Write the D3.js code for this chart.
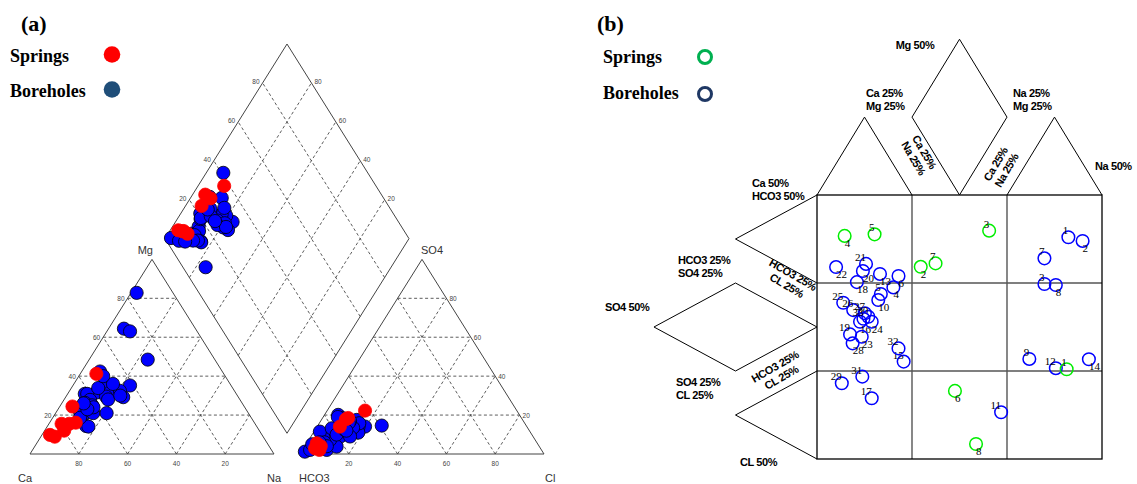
<!DOCTYPE html>
<html lang="en">
<head>
<meta charset="UTF-8">
<title>Piper and Durov diagrams</title>
<script src="https://d3js.org/d3.v7.min.js"></script>
<style>
  body { margin: 0; background: #fff; }
  svg { display: block; }
  .legend { font-family: "Liberation Serif", "Times New Roman", serif; font-weight: bold; }
  .tick-lbl { font-family: "Liberation Sans", Arial, sans-serif; font-size: 6.5px; fill: #444; }
  .axis-lbl { font-family: "Liberation Sans", Arial, sans-serif; font-size: 11px; fill: #333; }
  .durov-lbl { font-family: "Liberation Sans", Arial, sans-serif; font-size: 11px; font-weight: bold; letter-spacing: -0.4px; }
  .pt-lbl { font-family: "Liberation Serif", "Times New Roman", serif; font-size: 11px; fill: #000; }
</style>
</head>
<body>
<svg id="chart" width="1137" height="484"></svg>
<script>
// ---- data: Piper (a), per sample, meq % ----
var springMg  = [16.1, 41.2, 24.4, 15.5, 9.8, 15.5, 8.9, 12.0];
var springNa  = [10.7, 6.6, 5.2, 8.3, 3.3, 5.2, 5.7, 8.0];
var springSO4 = [22.3, 14.1, 17.9, 18.5, 2.9, 2.1, 5.5, 4.0];
var springCl  = [15.5, 9.3, 9.9, 10.5, 4.7, 6.9, 4.1, 6.5];

var boreMg  = [30.9, 82.8, 64.4, 48.5, 63.0, 35.2, 35.1, 32.6, 29.2, 31.6, 31.6, 29.5, 30.9, 27.8, 21.0, 21.0, 21.0,
               14.4, 21.8, 33.9, 14.1, 26.3, 18.6, 32.5, 42.4, 25.0, 28.0, 24.0, 23.0, 26.0, 30.0, 36.0, 40.0];
var boreNa  = [7.0, 2.3, 6.3, 24.0, 9.5, 23.4, 12.8, 19.2, 23.6, 17.0, 11.5, 16.4, 8.0, 10.7, 12.0, 15.4, 20.9,
               15.8, 9.6, 11.0, 16.9, 9.4, 11.2, 20.6, 7.5, 13.0, 18.0, 14.0, 12.0, 9.0, 22.0, 16.0, 10.0];
var boreSO4 = [14.6, 1.2, 2.1, 4.0, 2.1, 17.5, 14.1, 14.0, 12.0, 11.0, 20.1, 15.8, 8.9, 3.8, 7.2, 8.9, 18.4,
               11.5, 13.2, 15.8, 11.5, 10.0, 6.0, 13.5, 17.0, 12.5, 9.0, 4.0, 6.0, 5.0, 16.0, 12.0, 19.0];
var boreCl  = [26.2, 1.4, 3.1, 5.3, 9.9, 14.5, 19.6, 17.0, 16.0, 18.4, 5.6, 16.4, 12.0, 13.1, 8.7, 5.1, 8.3,
               2.4, 6.4, 10.5, 14.7, 10.0, 7.0, 15.0, 12.0, 12.0, 16.0, 9.0, 5.0, 2.5, 12.0, 13.0, 6.0];

var tickVals = [20, 40, 60, 80];

// ---- data: expanded Durov (b), position in % of the square (x from left, y from top) ----
var durovSpringIds = [1, 2, 3, 4, 5, 6, 7, 8];
var durovSpringX   = [87.6, 36.4, 60.4, 9.7, 20.2, 48.4, 41.6, 55.8];
var durovSpringY   = [66.0, 27.2, 13.5, 15.5, 14.9, 74.2, 25.9, 94.3];
var durovSpringSide = ["up", "down", "up", "down", "up", "down", "up", "down"];

var durovBoreIds = [1, 2, 3, 4, 5, 6, 7, 8, 9, 10, 11, 12, 13, 14, 15, 16, 17, 18, 19, 20, 21, 22, 23, 24, 25,
                    26, 27, 28, 29, 30, 31, 32, 33];
var durovBoreX = [88.2, 93.2, 79.8, 26.8, 22.4, 28.6, 79.8, 83.8, 74.5, 21.5, 64.6, 83.8, 22.1, 95.4, 30.4, 15.1,
                  19.2, 14.0, 11.6, 16.1, 17.2, 6.7, 15.7, 19.2, 9.2, 12.7, 16.8, 12.5, 8.7, 18.0, 15.9, 28.6, 16.3];
var durovBoreY = [16.0, 17.4, 33.7, 35.0, 37.5, 30.7, 24.0, 34.1, 62.1, 39.8, 82.3, 65.6, 29.9, 62.2, 63.1, 48.0,
                  77.0, 33.0, 52.8, 28.8, 26.1, 27.3, 53.7, 48.0, 40.8, 43.6, 44.8, 56.2, 71.3, 46.1, 68.8, 58.1, 46.9];
var durovBoreSide = ["up", "down", "up", "down", "up", "down", "up", "down", "up", "down", "up", "up", "down",
                     "down", "up", "down", "up", "down", "up", "down", "up", "down", "down", "down", "up", "up", "up",
                     "down", "up", "up", "up", "up", "up"];

var svg = d3.select("#chart");

// ================= panel (a): Piper =================
var G = 10.66, SIN = Math.sqrt(3) / 2;
var xA = d3.scaleLinear().domain([0, 200 + G]).range([30, 544]);
var yA = d3.scaleLinear().domain([0, 2 * 100 * SIN + G * SIN]).range([454, 44]);

function cat(mg, na) { return [na + mg / 2, mg * SIN]; }
function an(so4, cl) { return [100 + G + cl + so4 / 2, so4 * SIN]; }
var B = [100 + G / 2, G * SIN];
function dia(u, v) { return [B[0] + 50 * (v - u), B[1] + 100 * SIN * (u + v)]; }

var line = d3.line().x(function(p) { return xA(p[0]); }).y(function(p) { return yA(p[1]); });
var gA = svg.append("g");

function outline(pts) {
  gA.append("path").attr("d", line(pts) + "Z").attr("fill", "none").attr("stroke", "#444").attr("stroke-width", 1);
}
function dashed(p, q) {
  gA.append("path").attr("d", line([p, q])).attr("fill", "none").attr("stroke", "#333")
    .attr("stroke-width", 0.8).attr("stroke-dasharray", "3,2.5");
}

// grids
tickVals.forEach(function(t) {
  dashed(cat(t, 0), cat(t, 100 - t));
  dashed(cat(0, t), cat(100 - t, t));
  dashed(cat(0, 100 - t), cat(100 - t, 0));
  dashed(an(t, 0), an(t, 100 - t));
  dashed(an(0, t), an(100 - t, t));
  dashed(an(0, 100 - t), an(100 - t, 0));
  dashed(dia(t / 100, 0), dia(t / 100, 1));
  dashed(dia(0, t / 100), dia(1, t / 100));
});
outline([cat(0, 0), cat(0, 100), cat(100, 0)]);
outline([an(0, 0), an(0, 100), an(100, 0)]);
outline([dia(0, 0), dia(1, 0), dia(1, 1), dia(0, 1)]);

// tick labels
function tickText(p, txt, anchor, dx, dy) {
  gA.append("text").attr("class", "tick-lbl").attr("x", xA(p[0]) + dx).attr("y", yA(p[1]) + dy)
    .attr("text-anchor", anchor).text(txt);
}
tickVals.forEach(function(t) {
  tickText(cat(t, 0), t, "end", -3, 2.5);
  tickText(cat(0, 100 - t), t, "middle", 0, 12);
  tickText(an(0, t), t, "middle", 0, 12);
  tickText(an(t, 100 - t), t, "start", 3, 2.5);
  tickText(dia(1, t / 100), t, "end", -3, 1);
  tickText(dia(t / 100, 1), t, "start", 3, 1);
});

function axisText(x, y, txt, anchor) {
  gA.append("text").attr("class", "axis-lbl").attr("x", x).attr("y", y).attr("text-anchor", anchor).text(txt);
}
axisText(xA(cat(0, 0)[0]) - 12, 482, "Ca", "start");
axisText(xA(cat(0, 100)[0]) - 7, 482, "Na", "start");
axisText(xA(cat(100, 0)[0]) + 1, 254, "Mg", "end");
axisText(xA(an(0, 0)[0]) - 1, 482, "HCO3", "start");
axisText(xA(an(0, 100)[0]) + 1, 482, "Cl", "start");
axisText(xA(an(100, 0)[0]) - 1, 254, "SO4", "start");

// points: boreholes first, springs on top
function drawSet(mg, na, so4, cl, fill, stroke) {
  var pts = [];
  mg.forEach(function(m, i) {
    pts.push(cat(m, na[i]));
    pts.push(an(so4[i], cl[i]));
    pts.push(dia((100 - na[i]) / 100, (so4[i] + cl[i]) / 100));
  });
  gA.append("g").selectAll("circle").data(pts).enter().append("circle")
    .attr("cx", function(p) { return xA(p[0]); })
    .attr("cy", function(p) { return yA(p[1]); })
    .attr("r", 6.6)
    .attr("fill", fill)
    .attr("stroke", stroke)
    .attr("stroke-width", 0.8);
}
drawSet(boreMg, boreNa, boreSO4, boreCl, "#0000ff", "#000");
drawSet(springMg, springNa, springSO4, springCl, "#ff0000", "#ff0000");

// legend (a)
svg.append("text").attr("class", "legend").attr("x", 21).attr("y", 31).style("font-size", "22px").text("(a)");
svg.append("text").attr("class", "legend").attr("x", 10).attr("y", 62).style("font-size", "18px").text("Springs");
svg.append("text").attr("class", "legend").attr("x", 10).attr("y", 97).style("font-size", "18px").text("Boreholes");
svg.append("circle").attr("cx", 112).attr("cy", 54.5).attr("r", 8.3).attr("fill", "#ff0000");
svg.append("circle").attr("cx", 112).attr("cy", 89.5).attr("r", 8.3).attr("fill", "#1f4e79");

// ================= panel (b): expanded Durov =================
var xB = d3.scaleLinear().domain([0, 100]).range([817, 1102]);
var yB = d3.scaleLinear().domain([0, 100]).range([195, 459]);
var cell = 100 / 3, topH = 29.5, leftW = 28.6;
var lineB = d3.line().x(function(p) { return xB(p[0]); }).y(function(p) { return yB(p[1]); });
var gB = svg.append("g");

function shape(pts, closed, color, w) {
  gB.append("path").attr("d", lineB(pts) + (closed ? "Z" : "")).attr("fill", "none")
    .attr("stroke", color).attr("stroke-width", w);
}
shape([[0, 0], [cell / 2, -topH], [cell, 0]], false, "#000", 1);
shape([[cell, -topH], [1.5 * cell, 0], [2 * cell, -topH], [1.5 * cell, -2 * topH]], true, "#000", 1);
shape([[2 * cell, 0], [2.5 * cell, -topH], [3 * cell, 0]], false, "#000", 1);
shape([[0, 0], [-leftW, cell / 2], [0, cell]], false, "#000", 1);
shape([[-leftW, cell], [0, 1.5 * cell], [-leftW, 2 * cell], [-2 * leftW, 1.5 * cell]], true, "#000", 1);
shape([[0, 2 * cell], [-leftW, 2.5 * cell], [0, 3 * cell]], false, "#000", 1);
[cell, 2 * cell].forEach(function(c) {
  shape([[c, 0], [c, 100]], false, "#555", 1.4);
  shape([[0, c], [100, c]], false, "#555", 1.4);
});
gB.append("rect").attr("x", xB(0)).attr("y", yB(0)).attr("width", xB(100) - xB(0)).attr("height", yB(100) - yB(0))
  .attr("fill", "none").attr("stroke", "#000").attr("stroke-width", 1.3);

function dtext(x, y, lines, anchor, rot) {
  var t = gB.append("text").attr("class", "durov-lbl").attr("text-anchor", anchor || "start")
    .attr("transform", "translate(" + x + "," + y + ")" + (rot ? " rotate(" + rot + ")" : ""));
  lines.forEach(function(s, i) { t.append("tspan").attr("x", 0).attr("dy", i === 0 ? 0 : 12.5).text(s); });
}
dtext(915, 49, ["Mg 50%"], "middle");
dtext(866, 97, ["Ca 25%", "Mg 25%"]);
dtext(1013, 97, ["Na 25%", "Mg 25%"]);
dtext(1095, 170, ["Na 50%"]);
dtext(752, 187, ["Ca 50%", "HCO3 50%"]);
dtext(678, 264, ["HCO3 25%", "SO4 25%"]);
dtext(605, 311, ["SO4 50%"]);
dtext(676, 386, ["SO4 25%", "CL 25%"]);
dtext(740, 466, ["CL 50%"]);
dtext(921, 154, ["Ca 25%", "Na 25%"], "middle", 60);
dtext(999, 166, ["Ca 25%", "Na 25%"], "middle", -60);
dtext(791, 278, ["HCO3 25%", "CL 25%"], "middle", 30);
dtext(777, 370, ["HCO3 25%", "CL 25%"], "middle", -30);

function drawDurov(ids, xs, ys, side, color) {
  var g = gB.append("g");
  ids.forEach(function(id, i) {
    var cx = xB(xs[i]), cy = yB(ys[i]);
    g.append("circle").attr("cx", cx).attr("cy", cy).attr("r", 6.3)
      .attr("fill", "none").attr("stroke", color).attr("stroke-width", 1.5);
    g.append("text").attr("class", "pt-lbl")
      .attr("x", cx).attr("y", side[i] === "up" ? cy - 3 : cy + 11)
      .attr("text-anchor", side[i] === "up" ? "end" : "start")
      .text(id);
  });
}
drawDurov(durovBoreIds, durovBoreX, durovBoreY, durovBoreSide, "#0000ff");
drawDurov(durovSpringIds, durovSpringX, durovSpringY, durovSpringSide, "#00ee00");

// legend (b)
svg.append("text").attr("class", "legend").attr("x", 597).attr("y", 31).style("font-size", "22px").text("(b)");
svg.append("text").attr("class", "legend").attr("x", 603).attr("y", 63).style("font-size", "18px").text("Springs");
svg.append("text").attr("class", "legend").attr("x", 603).attr("y", 99).style("font-size", "18px").text("Boreholes");
svg.append("circle").attr("cx", 705).attr("cy", 57).attr("r", 6.5).attr("fill", "none")
  .attr("stroke", "#00b050").attr("stroke-width", 3);
svg.append("circle").attr("cx", 705).attr("cy", 94).attr("r", 6.5).attr("fill", "none")
  .attr("stroke", "#1f3864").attr("stroke-width", 3);
</script>
</body>
</html>
